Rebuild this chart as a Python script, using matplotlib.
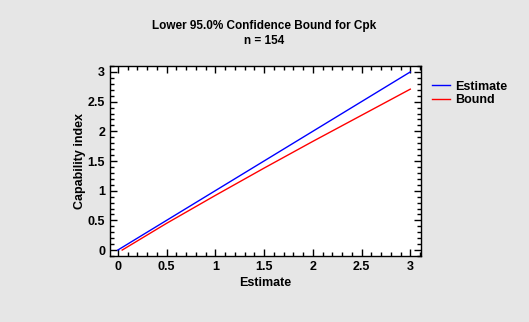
import numpy as np
import matplotlib
matplotlib.use('Agg')
import matplotlib.pyplot as plt
from matplotlib.ticker import MultipleLocator

plt.rcParams['font.family'] = ['Liberation Sans', 'DejaVu Sans']
plt.rcParams['font.weight'] = 'bold'

# values
est_x = [0.0, 0.5, 1.0, 1.5, 2.0, 2.5, 3.0]
est_y = [0.0, 0.5, 1.0, 1.5, 2.0, 2.5, 3.0]
bound_x = [0.045, 0.5, 1.0, 1.5, 2.0, 2.5, 3.0]
bound_y = [0.0, 0.45, 0.92, 1.38, 1.83, 2.27, 2.71]

bg = '#e6e6e6'
fig = plt.figure(figsize=(5.29, 3.22), dpi=100, facecolor=bg)
ax = fig.add_axes([110/529, 1 - 256/322, (421 - 110)/529, (256 - 66)/322])
ax.set_facecolor('white')

ax.plot(est_x, est_y, color='#0000ff', linewidth=1, label='Estimate')
ax.plot(bound_x, bound_y, color='#ff0000', linewidth=1, label='Bound')

ax.set_xlim(-0.08, 3.11)
ax.set_ylim(-0.1, 3.1)
ax.xaxis.set_minor_locator(MultipleLocator(0.1))
ax.yaxis.set_minor_locator(MultipleLocator(0.1))
ax.set_xticks([0, 0.5, 1, 1.5, 2, 2.5, 3])
ax.set_xticklabels(['0', '0.5', '1', '1.5', '2', '2.5', '3'])
ax.set_yticks([0, 0.5, 1, 1.5, 2, 2.5, 3])
ax.set_yticklabels(['0', '0.5', '1', '1.5', '2', '2.5', '3'])
ax.tick_params(which='both', direction='in', top=True, right=True,
               labelsize=9, width=1, color='black')
ax.tick_params(which='major', length=5)
ax.tick_params(which='minor', length=3)
for s in ax.spines.values():
    s.set_linewidth(1)

ax.set_xlabel('Estimate', fontsize=9, fontweight='bold', labelpad=3)
ax.set_ylabel('Capability index', fontsize=9, fontweight='bold', labelpad=1)

fig.text(0.5, 1 - 26/322, 'Lower 95.0% Confidence Bound for Cpk', ha='center', va='center',
         fontsize=8.5, fontweight='bold')
fig.text(0.5, 1 - 41/322, 'n = 154', ha='center', va='center',
         fontsize=8.5, fontweight='bold')

leg = ax.legend(loc='upper left', bbox_to_anchor=(1.02, 0.95), frameon=False,
                fontsize=9, handlelength=1.45, handletextpad=0.4, labelspacing=0.15,
                borderaxespad=0)

fig.savefig('out.png', dpi=100, facecolor=bg)
